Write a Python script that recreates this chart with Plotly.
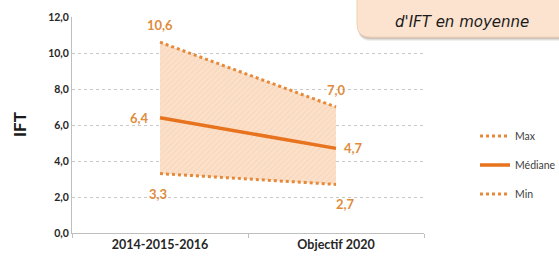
import plotly.graph_objects as go

categories = ["2014-2015-2016", "Objectif 2020"]
max_vals = [10.6, 7.0]
median_vals = [6.4, 4.7]
min_vals = [3.3, 2.7]
y_ticks = [0, 2, 4, 6, 8, 10, 12]
callout_text = "d'IFT en moyenne"

ORANGE = "#e8731e"
DOT = "#e58a3a"
LABEL = "#e08c3c"

def fr(v):
    return f"{v:.1f}".replace(".", ",")

L, R, T, B = 72, 424, 17, 233
W, H = R - L, B - T

def px(x):
    return (x - L) / W

def py(y):
    return (B - y) / H

fig = go.Figure()
fig.add_trace(go.Scatter(
    x=categories, y=min_vals, name="Min", mode="lines",
    line=dict(color=DOT, width=3, dash="dot"),
    showlegend=False, hoverinfo="skip",
))
fig.add_trace(go.Scatter(
    x=categories, y=max_vals, name="Max", mode="lines",
    line=dict(color=DOT, width=3, dash="dot"),
    fill="tonexty", fillcolor="rgba(248,200,160,0.55)",
    fillpattern=dict(shape="/", bgcolor="rgba(251,224,202,1)", fgcolor="rgba(244,192,152,0.6)", size=4, solidity=0.3),
    showlegend=False,
))
fig.add_trace(go.Scatter(
    x=categories, y=median_vals, name="Médiane", mode="lines",
    line=dict(color=ORANGE, width=3.5), showlegend=False,
))
# legend entries
for name, color, dash, w, rank in [("Max", DOT, "dot", 3, 1), ("Médiane", ORANGE, "solid", 3.5, 2), ("Min", DOT, "dot", 3, 3)]:
    fig.add_trace(go.Scatter(x=[None], y=[None], name=name, mode="lines",
                             line=dict(color=color, width=w, dash=dash),
                             legendgroup=name, legendrank=rank))

# data labels (positioned relative to the data points)
label_font = dict(color=LABEL, size=13, family="Lato", weight="bold")
for i, v in enumerate(max_vals):
    fig.add_annotation(x=categories[i], y=v, text=fr(v), showarrow=False,
                       yshift=17, font=label_font)
for i, (v, xs, ys) in enumerate(zip(median_vals, [-21, 17], [0, 0])):
    fig.add_annotation(x=categories[i], y=v, text=fr(v), showarrow=False,
                       xshift=xs, yshift=ys, font=label_font)
for i, (v, xs) in enumerate(zip(min_vals, [-2, 9])):
    fig.add_annotation(x=categories[i], y=v, text=fr(v), showarrow=False,
                       xshift=xs, yshift=-20, font=label_font)

# callout box (rounded rectangle) in paper coords
x0, x1 = px(357), px(575)
y0, y1 = py(37), py(-15)
rx, ry = 13 / W, 13 / H
def rounded(x0, y0, x1, y1):
    return (f"M{x0+rx},{y0} L{x1-rx},{y0} Q{x1},{y0} {x1},{y0+ry} "
            f"L{x1},{y1-ry} Q{x1},{y1} {x1-rx},{y1} L{x0+rx},{y1} "
            f"Q{x0},{y1} {x0},{y1-ry} L{x0},{y0+ry} Q{x0},{y0} {x0+rx},{y0} Z")
for k, a in [(4, 0.12), (3, 0.18), (2, 0.25)]:
    fig.add_shape(type="path", xref="paper", yref="paper",
                  path=rounded(x0 + 1 / W, y0 - k / H, x1, y1),
                  fillcolor=f"rgba(150,130,110,{a})", line=dict(width=0), layer="above")
fig.add_shape(type="path", xref="paper", yref="paper",
              path=rounded(x0, y0, x1, y1),
              fillcolor="#fbe3d0", line=dict(color="#f1d0b4", width=1), layer="above")
fig.add_annotation(x=px(462), y=py(22), xref="paper", yref="paper",
                   xanchor="center", yanchor="middle",
                   text=f"<i>{callout_text}</i>", showarrow=False,
                   font=dict(family="DejaVu Sans", size=15, color="#1a1a1a"))
fig.add_annotation(x=px(19), y=py(125), xref="paper", yref="paper",
                   xanchor="center", yanchor="middle",
                   text="<b>IFT</b>", showarrow=False, textangle=-90,
                   font=dict(family="Lato", size=17, color="#1a1a1a"))

fig.update_layout(
    width=559, height=256,
    margin=dict(l=L, r=559 - R, t=T, b=256 - B, autoexpand=False),
    paper_bgcolor="white", plot_bgcolor="white",
    separators=", ",
    font=dict(family="Lato", color="#404040"),
    showlegend=True,
    legend=dict(x=px(475), y=py(165), xanchor="left", yanchor="middle",
                traceorder="grouped", tracegroupgap=10,
                font=dict(size=10.5, color="#404040"), itemwidth=30,
                bgcolor="rgba(0,0,0,0)"),
    xaxis=dict(range=[-0.5, 1.5], showgrid=False, showline=True, linecolor="#bfbfbf", linewidth=1,
               ticks="outside", tickson="boundaries", ticklen=4, tickcolor="#bfbfbf",
               tickfont=dict(size=12.5, weight="bold", color="#262626"), fixedrange=True,
               automargin=False),
    yaxis=dict(range=[0, 12], tickvals=y_ticks, tickformat=".1f",
               showgrid=True, gridcolor="#c8c8c8", griddash="dot", gridwidth=1,
               showline=True, linecolor="#bfbfbf", zeroline=False, automargin=False,
               tickfont=dict(size=10.5, weight="bold", color="#262626")),
)

fig.write_html("out.html", config={"displayModeBar": False},
               post_script="document.body.style.margin='0';")
